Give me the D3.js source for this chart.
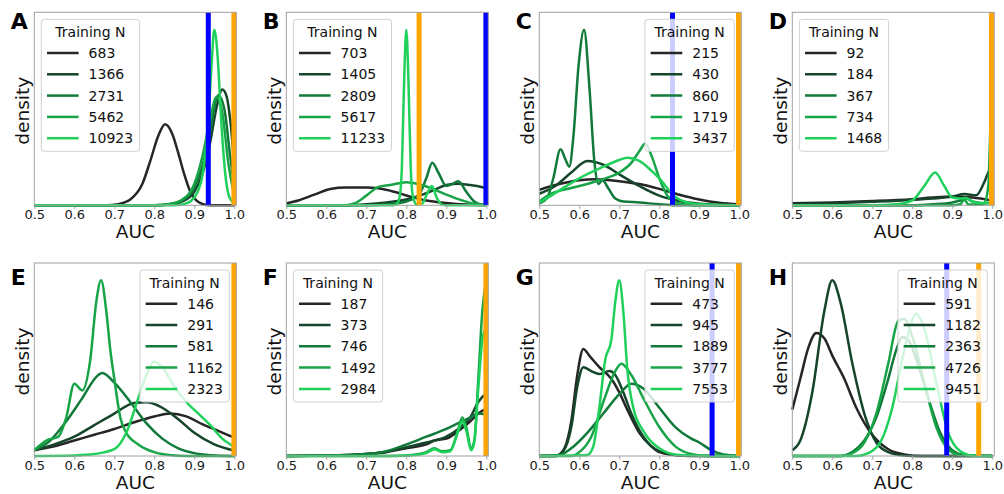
<!DOCTYPE html>
<html>
<head>
<meta charset="utf-8">
<script src="https://cdn.jsdelivr.net/npm/d3@7"></script>
<style>
body { margin: 0; background: #fff; }
svg { font-family: "DejaVu Sans", sans-serif; }
</style>
</head>
<body>
<div id="chart"></div>
<script>
// panel letters, training sizes and the two reference lines per panel
var panelLetters = ["A", "B", "C", "D", "E", "F", "G", "H"];
var trainingN = [
    [683, 1366, 2731, 5462, 10923],
    [703, 1405, 2809, 5617, 11233],
    [215, 430, 860, 1719, 3437],
    [92, 184, 367, 734, 1468],
    [146, 291, 581, 1162, 2323],
    [187, 373, 746, 1492, 2984],
    [473, 945, 1889, 3777, 7553],
    [591, 1182, 2363, 4726, 9451]
];
var blueLines = [0.935, 0.999, 0.833, null, null, null, 0.932, 0.886];
var orangeLines = [0.999, 0.832, 0.998, 0.998, 0.999, 0.999, 0.998, 0.966];
var legendSide = ["left", "left", "right", "left", "right", "left", "right", "right"];
var xTicks = [0.5, 0.6, 0.7, 0.8, 0.9, 1.0];

// density curves, [AUC, relative density (% of axis height)]
var curvesA = [
    [[0.5,0],[0.68,0],[0.71,0.6],[0.74,3],[0.77,11],[0.79,23],[0.81,36],[0.827,42],[0.845,37],[0.86,27],[0.875,16],[0.89,7],[0.905,2.5],[0.92,0.7],[0.94,0],[1.0,0]],
    [[0.5,0],[0.8,0],[0.84,0.5],[0.87,2],[0.9,7],[0.92,16],[0.94,33],[0.955,50],[0.97,60],[0.98,57],[0.99,44],[1.0,21]],
    [[0.5,0],[0.8,0],[0.84,0.6],[0.87,2.5],[0.9,9],[0.92,20],[0.94,39],[0.96,57],[0.975,50],[0.99,25],[1.0,10]],
    [[0.5,0],[0.8,0],[0.84,0.8],[0.87,3],[0.9,11],[0.92,25],[0.94,45],[0.955,56],[0.97,48],[0.985,22],[1.0,5]],
    [[0.5,0],[0.85,0],[0.88,1],[0.9,4],[0.92,15],[0.935,45],[0.943,72],[0.95,91],[0.958,78],[0.967,45],[0.977,17],[0.988,4],[1.0,1]]
];
var curvesB = [
    [[0.5,1],[0.53,2.5],[0.57,5.5],[0.61,8.5],[0.65,9.2],[0.7,9.2],[0.73,8.8],[0.77,7],[0.81,4.5],[0.85,2.5],[0.9,1.2],[0.95,0.4],[1.0,0.1]],
    [[0.5,0],[0.65,0],[0.7,0.5],[0.75,1.5],[0.8,3],[0.84,5.5],[0.87,8],[0.9,10.5],[0.93,11.2],[0.96,10.5],[1.0,9]],
    [[0.5,0],[0.7,0],[0.75,0.5],[0.8,2],[0.83,5],[0.85,14],[0.865,22],[0.88,17],[0.9,10],[0.915,11],[0.93,12.5],[0.95,7],[0.97,2],[0.99,0.3],[1.0,0]],
    [[0.5,0],[0.64,0],[0.67,1],[0.7,5],[0.73,9.5],[0.76,10.5],[0.8,12],[0.83,11],[0.86,9],[0.9,5.5],[0.94,2.5],[0.97,0.8],[1.0,0.1]],
    [[0.5,0],[0.765,0],[0.775,0.5],[0.783,4],[0.789,20],[0.794,60],[0.8,91],[0.806,60],[0.811,20],[0.817,4],[0.826,0.5],[0.84,1],[0.852,6],[0.864,10],[0.876,4],[0.888,0.5],[0.9,0],[1.0,0]]
];
var curvesC = [
    [[0.5,8],[0.55,11],[0.6,13],[0.64,13.5],[0.7,12.5],[0.75,11],[0.8,8.5],[0.85,5.5],[0.9,3],[0.95,1.3],[1.0,0.5]],
    [[0.5,6],[0.54,10],[0.58,17],[0.62,23],[0.66,21],[0.7,16],[0.75,10],[0.8,5],[0.85,2.2],[0.9,0.8],[0.95,0.2],[1.0,0]],
    [[0.5,1],[0.52,4],[0.535,14],[0.553,29],[0.565,24],[0.575,20],[0.585,35],[0.598,72],[0.612,91],[0.625,62],[0.638,22],[0.648,11],[0.658,13],[0.672,9],[0.69,3.5],[0.71,2],[0.75,1.5],[0.8,0.5],[0.84,0],[1.0,0]],
    [[0.5,2],[0.53,6],[0.56,8],[0.6,10],[0.65,13],[0.7,17],[0.73,22],[0.75,28],[0.765,32],[0.78,26],[0.8,14],[0.82,5],[0.84,1.5],[0.87,0.3],[0.9,0],[1.0,0]],
    [[0.5,1.5],[0.53,5],[0.56,9],[0.6,14],[0.65,19],[0.7,23.5],[0.72,24.7],[0.75,23],[0.78,18],[0.8,14],[0.84,4.3],[0.87,1.5],[0.9,0.5],[1.0,0]]
];
var curvesD = [
    [[0.5,1],[0.6,1.5],[0.7,2.2],[0.8,3.2],[0.85,4],[0.9,4.5],[0.95,4],[1.0,2.5]],
    [[0.5,0.5],[0.6,1],[0.7,1.8],[0.8,2.8],[0.85,3.5],[0.9,4.5],[0.93,5.8],[0.96,5.2],[0.98,12],[0.99,17],[1.0,21]],
    [[0.5,0],[0.8,0],[0.85,0.5],[0.9,1.5],[0.92,2.5],[0.935,3.5],[0.95,2],[0.97,1.2],[0.99,1],[1.0,1.5]],
    [[0.5,0],[0.9,0],[0.92,0.5],[0.93,3],[0.94,0.5],[0.97,0.3],[0.98,1],[0.99,10],[0.995,40],[1.0,91]],
    [[0.5,0],[0.7,0],[0.76,0.5],[0.8,2.5],[0.83,10],[0.857,17],[0.88,10],[0.9,4],[0.92,3.5],[0.935,3.8],[0.95,2],[0.97,1.2],[1.0,1.5]]
];
var curvesE = [
    [[0.5,3],[0.55,5],[0.6,8],[0.65,11],[0.7,14],[0.75,17.5],[0.8,20.5],[0.84,22],[0.88,20.5],[0.92,16.5],[0.96,13],[1.0,9.5]],
    [[0.5,3],[0.55,6],[0.6,10],[0.65,16],[0.7,22],[0.75,27.5],[0.78,27.8],[0.82,25],[0.86,19],[0.9,12],[0.95,6],[1.0,2.8]],
    [[0.5,3],[0.54,8],[0.58,18],[0.62,30],[0.66,42],[0.67,43],[0.7,38],[0.74,28],[0.78,17],[0.82,9],[0.86,4],[0.9,1.5],[0.95,0.3],[1.0,0]],
    [[0.5,3],[0.53,8],[0.56,10],[0.58,20],[0.6,37.5],[0.62,34],[0.64,50],[0.655,80],[0.667,91],[0.68,75],[0.69,55],[0.7,40],[0.715,20],[0.73,12],[0.76,6],[0.8,2],[0.85,0.3],[0.9,0],[1.0,0]],
    [[0.5,0],[0.6,0.3],[0.65,1],[0.7,3.5],[0.73,12],[0.76,30],[0.78,42],[0.8,49],[0.82,46],[0.85,36],[0.88,28],[0.91,22],[0.94,16],[0.97,9],[1.0,4.8]]
];
var curvesF = [
    [[0.5,0],[0.6,0.2],[0.7,1],[0.75,2],[0.8,4],[0.85,6],[0.87,8],[0.9,9],[0.93,13],[0.96,18],[0.98,22],[1.0,24.5]],
    [[0.5,0],[0.6,0.2],[0.7,1],[0.75,2.2],[0.8,4.5],[0.85,7],[0.9,10],[0.93,14],[0.96,20],[0.98,28],[1.0,32.5]],
    [[0.5,0],[0.6,0.2],[0.7,1],[0.75,2.5],[0.8,6],[0.85,10],[0.9,14],[0.93,17],[0.96,20],[0.98,22],[1.0,21.5]],
    [[0.5,0],[0.75,0],[0.8,0.3],[0.85,2],[0.87,4],[0.89,2.5],[0.91,3],[0.93,14],[0.94,20],[0.95,15],[0.962,4],[0.97,8],[0.98,40],[0.99,75],[1.0,91]],
    [[0.5,0],[0.75,0],[0.8,0.2],[0.85,1.5],[0.87,3.5],[0.89,2],[0.91,2.5],[0.93,13],[0.94,18],[0.95,13],[0.962,3],[0.97,7],[0.98,35],[0.99,60],[1.0,67]]
];
var curvesG = [
    [[0.5,0],[0.54,0],[0.56,3],[0.58,18],[0.595,42],[0.61,55.5],[0.625,52],[0.65,46],[0.68,40],[0.7,33],[0.72,24],[0.75,12],[0.78,5],[0.8,2],[0.85,0.3],[0.9,0],[1.0,0]],
    [[0.5,0],[0.54,0],[0.56,2.5],[0.58,15],[0.595,36],[0.61,46],[0.63,44],[0.65,42.5],[0.675,44],[0.69,42],[0.71,33],[0.73,22],[0.76,10],[0.8,2.5],[0.85,0.3],[1.0,0]],
    [[0.5,0],[0.55,0.5],[0.58,4],[0.62,12],[0.66,22],[0.7,32],[0.73,37.5],[0.76,35],[0.8,25],[0.84,15],[0.88,9],[0.9,7],[0.93,3],[0.96,0.8],[1.0,0.2]],
    [[0.5,0],[0.58,0],[0.6,2],[0.63,10],[0.66,28],[0.69,44],[0.705,47.8],[0.73,42],[0.76,30],[0.8,15],[0.84,5],[0.88,1],[0.92,0],[1.0,0]],
    [[0.5,0],[0.62,0.5],[0.635,5],[0.65,25],[0.665,50],[0.68,60],[0.69,80],[0.7,91],[0.71,75],[0.72,45],[0.735,25],[0.76,13],[0.8,4],[0.85,0.5],[1.0,0]]
];
var curvesH = [
    [[0.5,24],[0.52,40],[0.54,56],[0.56,63.7],[0.58,61],[0.6,52],[0.63,40],[0.66,25],[0.7,11],[0.74,3.5],[0.78,0.8],[0.82,0],[1.0,0]],
    [[0.5,3],[0.52,8],[0.55,33],[0.58,75],[0.6,91],[0.62,80],[0.65,48],[0.68,22],[0.71,7],[0.74,2],[0.78,0.3],[0.82,0],[1.0,0]],
    [[0.5,0],[0.62,0],[0.65,2],[0.68,8],[0.71,20],[0.74,40],[0.76,55],[0.775,61.6],[0.79,60],[0.81,50],[0.84,30],[0.87,12],[0.9,3],[0.93,0.5],[1.0,0]],
    [[0.5,0],[0.62,0],[0.65,1.5],[0.68,7],[0.71,22],[0.74,48],[0.765,70],[0.78,71],[0.8,62],[0.83,38],[0.86,15],[0.89,3.5],[0.92,0.5],[1.0,0]],
    [[0.5,0],[0.66,0],[0.69,1.5],[0.72,7],[0.75,25],[0.78,55],[0.81,73.7],[0.83,66],[0.86,38],[0.89,12],[0.92,2.5],[0.95,0.3],[1.0,0]]
];
var allCurves = [curvesA, curvesB, curvesC, curvesD, curvesE, curvesF, curvesG, curvesH];

var lineColors = ["#262626", "#15452a", "#117a3a", "#17a447", "#1fd05a"];

var width = 1004, height = 494;
var pw = 202, ph = 193;
var colLeft = [34.3, 286.3, 539.3, 792.3];
var rowTop = [12.3, 263];
var letterY = [29.3, 285.3];

var svg = d3.select("#chart").append("svg")
    .attr("width", width)
    .attr("height", height);

var x = d3.scaleLinear().domain([0.5, 1.005]).range([0, pw]);
var y = d3.scaleLinear().domain([0, 100]).range([ph, 0]);

var line = d3.line()
    .x(function(d) { return x(d[0]); })
    .y(function(d) { return y(d[1]); })
    .curve(d3.curveMonotoneX);

panelLetters.forEach(function(letter, i) {
    var col = i % 4, row = Math.floor(i / 4);
    var left = colLeft[col], top = rowTop[row];
    var g = svg.append("g").attr("transform", "translate(" + left + "," + top + ")");

    // curves
    allCurves[i].forEach(function(pts, k) {
        g.append("path")
            .datum(pts)
            .attr("d", line)
            .attr("fill", "none")
            .attr("stroke", lineColors[k])
            .attr("stroke-width", 2.5)
            .attr("stroke-linejoin", "round");
    });

    // reference lines
    if (blueLines[i] != null) {
        g.append("line")
            .attr("x1", x(blueLines[i])).attr("x2", x(blueLines[i]))
            .attr("y1", 0).attr("y2", ph)
            .attr("stroke", "#0000ff").attr("stroke-width", 5);
    }
    g.append("line")
        .attr("x1", x(orangeLines[i])).attr("x2", x(orangeLines[i]))
        .attr("y1", 0).attr("y2", ph)
        .attr("stroke", "#ffa500").attr("stroke-width", 5);

    // frame
    g.append("rect")
        .attr("width", pw).attr("height", ph)
        .attr("fill", "none")
        .attr("stroke", "#a0a0a0")
        .attr("stroke-width", 1);

    var ax = g.append("g")
        .attr("transform", "translate(0," + ph + ")")
        .call(d3.axisBottom(x).tickValues(xTicks).tickFormat(d3.format(".1f")).tickSize(3.5).tickPadding(1));
    ax.select(".domain").remove();
    ax.selectAll("line").attr("stroke", "#a0a0a0");
    ax.selectAll("text")
        .attr("font-size", 13)
        .attr("font-family", "DejaVu Sans, sans-serif")
        .attr("fill", "#1a1a1a");

    g.append("text")
        .attr("x", pw / 2).attr("y", ph + 33)
        .attr("text-anchor", "middle")
        .attr("font-size", 18.5)
        .attr("fill", "#111")
        .text("AUC");

    g.append("text")
        .attr("transform", "translate(-5," + (ph / 2 + 2) + ") rotate(-90)")
        .attr("text-anchor", "middle")
        .attr("font-size", 18.5)
        .attr("fill", "#111")
        .text("density");

    svg.append("text")
        .attr("x", left - 23.5).attr("y", letterY[row])
        .attr("font-size", 22)
        .attr("font-weight", "bold")
        .attr("fill", "#000")
        .text(letter);

    // legend
    var lg = g.append("g");
    var box = lg.append("rect")
        .attr("rx", 3).attr("ry", 3)
        .attr("fill", "#fff").attr("fill-opacity", 0.8)
        .attr("stroke", "#d0d0d0").attr("stroke-width", 1);
    var title = lg.append("text")
        .attr("y", 17.8)
        .attr("text-anchor", "middle")
        .attr("font-size", 14)
        .attr("fill", "#111")
        .text("Training N");
    var maxW = 0;
    trainingN[i].forEach(function(n, k) {
        var cy = 33.7 + k * 21.3;
        lg.append("line")
            .attr("x1", 5.7).attr("x2", 37.3)
            .attr("y1", cy).attr("y2", cy)
            .attr("stroke", lineColors[k]).attr("stroke-width", 2.5);
        var t = lg.append("text")
            .attr("x", 47.3).attr("y", cy + 5.1)
            .attr("font-size", 14)
            .attr("fill", "#111")
            .text(n);
        maxW = Math.max(maxW, t.node().getComputedTextLength());
    });
    var bw = 47.3 + maxW + 6.4, bh = 132;
    box.attr("width", bw).attr("height", bh);
    title.attr("x", bw / 2);
    var bx = legendSide[i] == "left" ? 7 : pw - 7 - bw;
    lg.attr("transform", "translate(" + bx + ",7)");
});
</script>
</body>
</html>
